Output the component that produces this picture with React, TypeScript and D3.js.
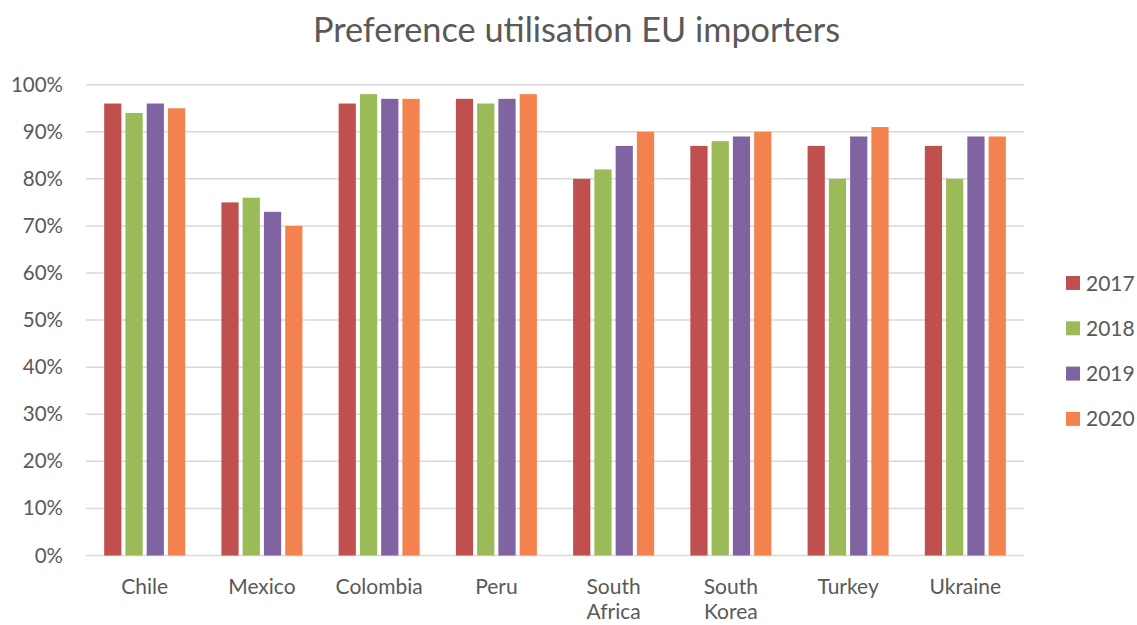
import React from "react";
import * as d3 from "d3";

const categories: string[][] = [
  ["Chile"], ["Mexico"], ["Colombia"], ["Peru"],
  ["South", "Africa"], ["South", "Korea"], ["Turkey"], ["Ukraine"],
];
const years = ["2017", "2018", "2019", "2020"];
const v2017 = [96, 75, 96, 97, 80, 87, 87, 87];
const v2018 = [94, 76, 98, 96, 82, 88, 80, 80];
const v2019 = [96, 73, 97, 97, 87, 89, 89, 89];
const v2020 = [95, 70, 97, 98, 90, 90, 91, 89];
const series = [v2017, v2018, v2019, v2020];
const colors = ["#C0504D", "#9BBB59", "#8064A2", "#F4824F"];
const yTicks = [0, 10, 20, 30, 40, 50, 60, 70, 80, 90, 100];

const W = 1137, H = 625;
const left = 86, right = 1024, top = 84.7, bottom = 555.5;
const font = "Lato, 'Open Sans', sans-serif";

export default function App() {
  const keys = categories.map((c) => c.join(" "));
  const x0 = d3.scaleBand<string>().domain(keys).range([left, right]).paddingInner(0.309).paddingOuter(0.155);
  const x1 = d3.scaleBand<string>().domain(years).range([0, x0.bandwidth()]).paddingInner(0.19);
  const y = d3.scaleLinear().domain([0, 100]).range([bottom, top]);

  return (
    <svg width={W} height={H} style={{ position: "absolute", left: 0, top: 0, background: "#fff" }}>
      <text x={576.5} y={42} textAnchor="middle" fontFamily={font} fontSize={34.3} fill="#595959">
        Preference utilisation EU importers
      </text>
      {yTicks.map((t) => (
        <g key={t}>
          <line x1={left} x2={right} y1={y(t)} y2={y(t)} stroke="#D9D9D9" strokeWidth={1.5} />
          <text x={63} y={y(t) + 7} textAnchor="end" fontFamily={font} fontSize={20.5} fill="#595959">
            {t}%
          </text>
        </g>
      ))}
      {keys.map((k, i) => (
        <g key={k}>
          {series.map((s, j) => (
            <rect
              key={j}
              x={(x0(k) as number) + (x1(years[j]) as number)}
              y={y(s[i])}
              width={x1.bandwidth()}
              height={y(0) - y(s[i])}
              fill={colors[j]}
            />
          ))}
          {categories[i].map((line, li) => (
            <text
              key={li}
              x={(x0(k) as number) + x0.bandwidth() / 2}
              y={594 + li * 25}
              textAnchor="middle"
              fontFamily={font}
              fontSize={21}
              fill="#595959"
            >
              {line}
            </text>
          ))}
        </g>
      ))}
      {years.map((yr, j) => (
        <g key={yr}>
          <rect x={1066} y={276 + j * 45.3} width={14} height={14} fill={colors[j]} />
          <text x={1086} y={290.5 + j * 45.3} fontFamily={font} fontSize={21} fill="#595959">
            {yr}
          </text>
        </g>
      ))}
    </svg>
  );
}
